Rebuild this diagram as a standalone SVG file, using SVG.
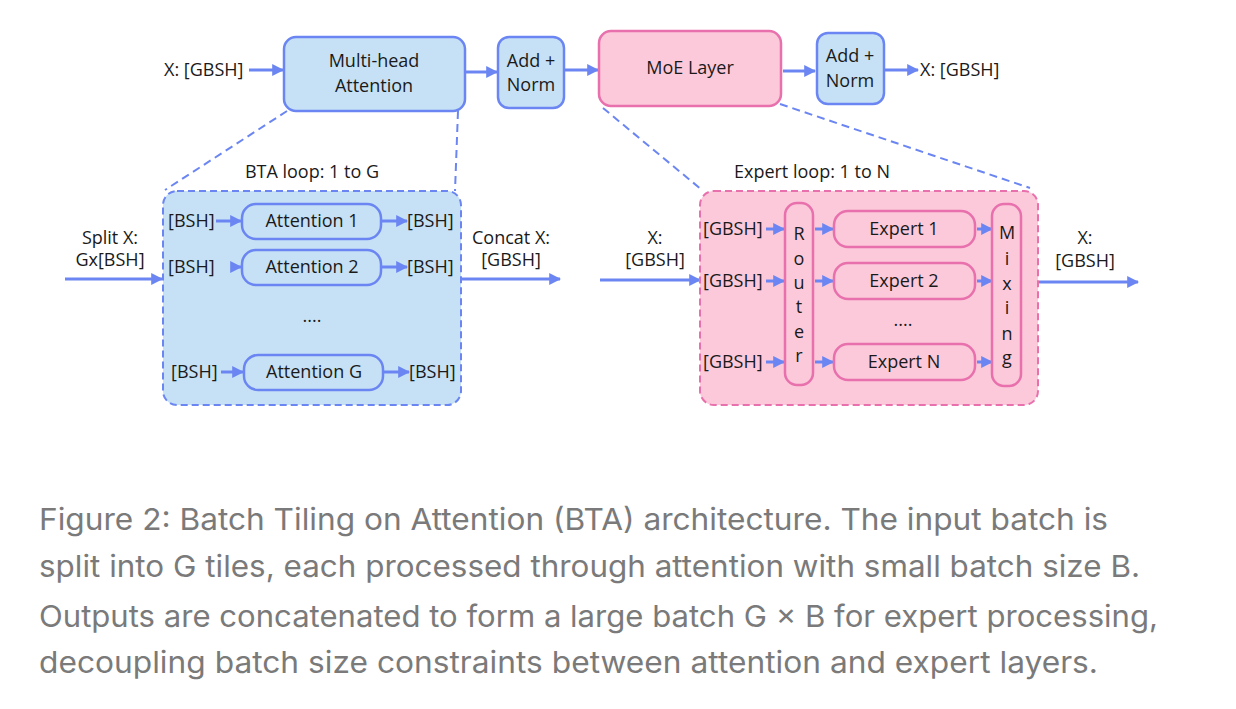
<svg xmlns="http://www.w3.org/2000/svg" width="1236" height="709" viewBox="0 0 1236 709">
<defs>
<marker id="ah" viewBox="0 0 10 10" refX="9" refY="5" markerWidth="4" markerHeight="4" orient="auto" markerUnits="strokeWidth"><path d="M0,0 L10,5 L0,10 z" fill="#6b86f2"/></marker>
</defs>
<style>
text{font-family:"Open Sans","Liberation Sans",sans-serif;font-size:18px;fill:#1a1a1a}
.cap{font-family:Inter,"Liberation Sans",sans-serif;font-size:30px;fill:#7a7a7a}
.b{fill:#c6e1f5;stroke:#6b86f2;stroke-width:2.5}
.p{fill:#fcc9da;stroke:#e870ad;stroke-width:2.5}
.bd{fill:#c6e1f5;stroke:#6b86f2;stroke-width:2;stroke-dasharray:7 4}
.pd{fill:#fcc9da;stroke:#e870ad;stroke-width:2;stroke-dasharray:7 4}
.a{stroke:#6b86f2;stroke-width:3;fill:none;marker-end:url(#ah)}
.d{stroke:#6b86f2;stroke-width:2;fill:none;stroke-dasharray:8 5}
.c{text-anchor:middle}
</style>
<rect width="1236" height="709" fill="#fff"/>
<g id="connectors">
<line class="d" x1="287" y1="111" x2="165" y2="190"/>
<line class="d" x1="458" y1="111" x2="455" y2="191"/>
<line class="d" x1="603" y1="108" x2="702" y2="190"/>
<line class="d" x1="780" y1="104" x2="1030" y2="188"/>
<line class="a" x1="249" y1="70" x2="283" y2="70"/>
<line class="a" x1="466" y1="72" x2="497" y2="72"/>
<line class="a" x1="565" y1="70" x2="598" y2="70"/>
<line class="a" x1="783" y1="71" x2="815" y2="71"/>
<line class="a" x1="885" y1="70" x2="918" y2="70"/>
<line class="a" x1="65" y1="279" x2="162" y2="279"/>
<line class="a" x1="462" y1="279" x2="560" y2="279"/>
<line class="a" x1="600" y1="280" x2="700" y2="280"/>
<line class="a" x1="1039" y1="282" x2="1138" y2="282"/>
</g>
<g id="mha"><rect class="b" x="284" y="37" width="181" height="74" rx="12"/><text class="c" x="374" y="67">Multi-head</text><text class="c" x="374" y="92">Attention</text></g>
<g id="addnorm1"><rect class="b" x="498" y="37" width="66" height="71" rx="11"/><text class="c" x="531" y="67">Add +</text><text class="c" x="531" y="91">Norm</text></g>
<g id="moe"><rect class="p" x="599" y="31" width="182" height="75" rx="12"/><text class="c" x="690" y="74">MoE Layer</text></g>
<g id="addnorm2"><rect class="b" x="817" y="33" width="67" height="71" rx="11"/><text class="c" x="850" y="62">Add +</text><text class="c" x="850" y="87">Norm</text></g>
<text x="164" y="76">X: [GBSH]</text>
<text x="920" y="76">X: [GBSH]</text>
<g id="bta">
<rect class="bd" x="163" y="191" width="298" height="214" rx="14"/>
<text class="c" x="312" y="178">BTA loop: 1 to G</text>
<text x="168" y="227">[BSH]</text><line class="a" x1="216" y1="221" x2="241" y2="221"/>
<rect class="b" x="242" y="204" width="139" height="35" rx="14"/><text class="c" x="312" y="227">Attention 1</text>
<line class="a" x1="382" y1="221" x2="407" y2="221"/><text x="407" y="227">[BSH]</text>
<text x="168" y="273">[BSH]</text><line class="a" x1="232" y1="267" x2="241" y2="267"/>
<rect class="b" x="242" y="250" width="139" height="35" rx="14"/><text class="c" x="312" y="273">Attention 2</text>
<line class="a" x1="382" y1="267" x2="407" y2="267"/><text x="407" y="273">[BSH]</text>
<text class="c" x="312" y="322">....</text>
<text x="171" y="378">[BSH]</text><line class="a" x1="221" y1="372" x2="243" y2="372"/>
<rect class="b" x="244" y="355" width="139" height="35" rx="14"/><text class="c" x="314" y="378">Attention G</text>
<line class="a" x1="384" y1="372" x2="409" y2="372"/><text x="409" y="378">[BSH]</text>
</g>
<text class="c" x="110" y="244">Split X:</text><text class="c" x="110" y="266">Gx[BSH]</text>
<text class="c" x="511" y="244">Concat X:</text><text class="c" x="511" y="266">[GBSH]</text>
<text class="c" x="655" y="244">X:</text><text class="c" x="655" y="266">[GBSH]</text>
<text class="c" x="1085" y="244">X:</text><text class="c" x="1085" y="267">[GBSH]</text>
<g id="experts">
<rect class="pd" x="700" y="191" width="338" height="214" rx="14"/>
<text class="c" x="812" y="178">Expert loop: 1 to N</text>
<text x="703" y="235">[GBSH]</text><line class="a" x1="766" y1="229" x2="784" y2="229"/>
<text x="703" y="287">[GBSH]</text><line class="a" x1="766" y1="281" x2="784" y2="281"/>
<text x="703" y="368">[GBSH]</text><line class="a" x1="766" y1="362" x2="784" y2="362"/>
<g id="router"><rect class="p" x="785" y="203" width="28" height="182" rx="12"/>
<text class="c" x="799" y="240">R</text><text class="c" x="799" y="265">o</text><text class="c" x="799" y="289">u</text><text class="c" x="799" y="313">t</text><text class="c" x="799" y="338">e</text><text class="c" x="799" y="362">r</text></g>
<line class="a" x1="815" y1="229" x2="833" y2="229"/>
<line class="a" x1="815" y1="281" x2="833" y2="281"/>
<line class="a" x1="815" y1="362" x2="833" y2="362"/>
<rect class="p" x="834" y="211" width="141" height="36" rx="14"/><text class="c" x="904" y="235">Expert 1</text>
<rect class="p" x="834" y="263" width="141" height="36" rx="14"/><text class="c" x="904" y="287">Expert 2</text>
<text class="c" x="903" y="326">....</text>
<rect class="p" x="834" y="344" width="141" height="36" rx="14"/><text class="c" x="904" y="368">Expert N</text>
<line class="a" x1="977" y1="229" x2="992" y2="229"/>
<line class="a" x1="977" y1="281" x2="992" y2="281"/>
<line class="a" x1="977" y1="362" x2="992" y2="362"/>
<g id="mixing"><rect class="p" x="992" y="204" width="29" height="182" rx="12"/>
<text class="c" x="1007" y="239">M</text><text class="c" x="1007" y="265">i</text><text class="c" x="1007" y="290">x</text><text class="c" x="1007" y="314">i</text><text class="c" x="1007" y="340">n</text><text class="c" x="1007" y="364">g</text></g>
</g>
<g id="caption">
<text class="cap" x="39" y="530" textLength="1069" lengthAdjust="spacingAndGlyphs">Figure 2: Batch Tiling on Attention (BTA) architecture. The input batch is</text>
<text class="cap" x="39" y="577" textLength="1101" lengthAdjust="spacingAndGlyphs">split into G tiles, each processed through attention with small batch size B.</text>
<text class="cap" x="39" y="627" textLength="1119" lengthAdjust="spacingAndGlyphs">Outputs are concatenated to form a large batch G × B for expert processing,</text>
<text class="cap" x="39" y="673" textLength="1059" lengthAdjust="spacingAndGlyphs">decoupling batch size constraints between attention and expert layers.</text>
</g>
</svg>
